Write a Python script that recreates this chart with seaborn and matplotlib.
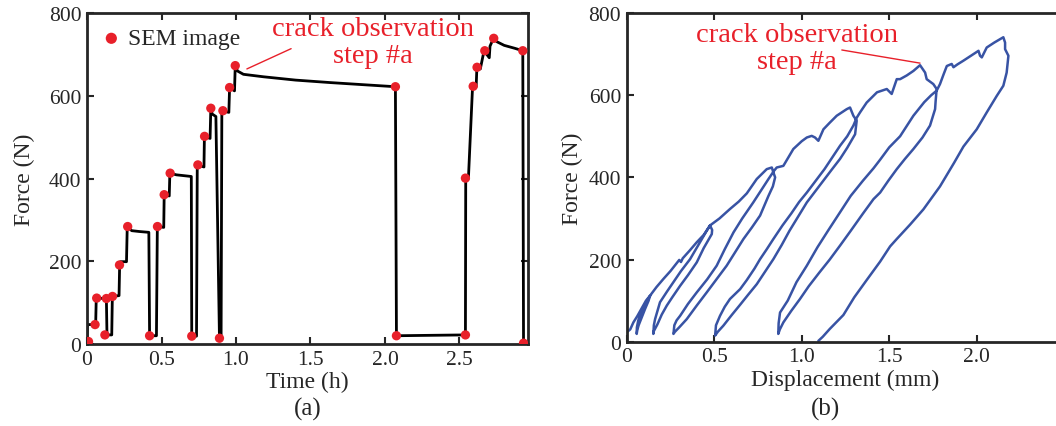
import matplotlib
matplotlib.use("Agg")
import matplotlib.pyplot as plt
import pandas as pd
import seaborn as sns

# ---- (a) force vs time ----
time_h = [0.0, 0.004, 0.058, 0.062, 0.13, 0.134, 0.166, 0.17, 0.215, 0.219,
          0.224, 0.265, 0.27, 0.30, 0.35, 0.415, 0.42, 0.466, 0.472, 0.515,
          0.518, 0.552, 0.556, 0.60, 0.65, 0.70, 0.703, 0.735, 0.74, 0.785,
          0.788, 0.826, 0.831, 0.84, 0.865, 0.889, 0.90, 0.905, 0.952, 0.957,
          0.99, 0.995, 1.01, 1.05, 1.185, 1.40, 1.633, 1.85, 2.07, 2.077,
          2.30, 2.54, 2.542, 2.56, 2.588, 2.612, 2.617, 2.64, 2.665, 2.70,
          2.705, 2.728, 2.75, 2.80, 2.87, 2.925, 2.93]
force_t = [5, 47, 47, 111, 110, 22, 22, 115, 117, 191,
           199, 199, 284, 274, 272, 270, 20, 20, 284, 282,
           361, 358, 413, 409, 407, 405, 19, 19, 433, 428,
           502, 497, 570, 556, 550, 14, 14, 564, 560, 620,
           612, 673, 660, 652, 646, 638, 632, 627, 622, 20,
           21, 22, 401, 400, 623, 622, 669, 665, 709, 692,
           720, 739, 731, 722, 715, 709, 2]

sem_time = [0.01, 0.054, 0.065, 0.13, 0.12, 0.171, 0.218, 0.273, 0.42, 0.473,
            0.518, 0.558, 0.703, 0.744, 0.789, 0.831, 0.889, 0.912, 0.957, 0.995,
            2.07, 2.077, 2.54, 2.54, 2.592, 2.618, 2.67, 2.73, 2.925, 2.93]
sem_force = [6, 47, 111, 110, 22, 115, 191, 284, 20, 284,
             361, 413, 19, 433, 502, 570, 14, 564, 620, 673,
             622, 20, 22, 401, 623, 669, 709, 739, 709, 2]

# ---- (b) force vs displacement, branch by branch ----
load1_d = [0.0, 0.0, 0.02, 0.038, 0.06, 0.09, 0.11, 0.133]
load1_f = [6, 23, 30, 47, 62, 85, 100, 112]
unload1_d = [0.125, 0.105, 0.085, 0.068, 0.06, 0.057]
unload1_f = [100, 80, 58, 40, 28, 19]
reload2_d = [0.058, 0.066, 0.08, 0.1, 0.12, 0.14, 0.17, 0.21, 0.25, 0.30,
             0.31, 0.32, 0.36, 0.40, 0.44, 0.476, 0.488]
reload2_f = [35, 52, 68, 86, 102, 116, 133, 153, 172, 199,
             194, 203, 222, 242, 260, 283, 272]
unload2_d = [0.486, 0.44, 0.40, 0.35, 0.305, 0.26, 0.229, 0.20, 0.175, 0.155, 0.152]
unload2_f = [262, 228, 193, 162, 136, 108, 88, 66, 42, 26, 19]
reload3_d = [0.155, 0.162, 0.19, 0.23, 0.267, 0.31, 0.362, 0.41, 0.457, 0.476,
             0.53, 0.59, 0.64, 0.686, 0.743, 0.80, 0.829, 0.838, 0.848]
reload3_f = [40, 55, 96, 122, 145, 172, 201, 236, 270, 283,
             300, 323, 341, 361, 396, 420, 424, 412, 400]
unload3_d = [0.835, 0.81, 0.762, 0.715, 0.667, 0.62, 0.571, 0.51, 0.457, 0.40,
             0.343, 0.30, 0.275, 0.267]
unload3_f = [378, 355, 307, 278, 250, 218, 185, 150, 120, 88,
             55, 35, 24, 19]
reload4_d = [0.272, 0.285, 0.305, 0.35, 0.40, 0.46, 0.514, 0.56, 0.61, 0.66,
             0.723, 0.77, 0.81, 0.84, 0.857, 0.895, 0.952, 1.0, 1.029, 1.057,
             1.076, 1.095, 1.124, 1.16, 1.2, 1.257, 1.276, 1.295, 1.314]
reload4_f = [40, 52, 63, 92, 120, 152, 185, 225, 266, 300,
             339, 370, 396, 415, 424, 428, 469, 488, 497, 501,
             497, 489, 517, 533, 550, 566, 570, 550, 538]
unload4_d = [1.305, 1.26, 1.219, 1.17, 1.12, 1.07, 1.029, 0.98, 0.93, 0.885,
             0.838, 0.79, 0.743, 0.695, 0.648, 0.60, 0.552, 0.52, 0.505]
unload4_f = [505, 472, 445, 418, 390, 362, 339, 305, 270, 235,
             201, 170, 140, 115, 90, 65, 39, 24, 15]
reload5_d = [0.51, 0.533, 0.56, 0.59, 0.648, 0.686, 0.73, 0.762, 0.80, 0.838,
             0.89, 0.94, 0.985, 1.029, 1.08, 1.13, 1.18, 1.219, 1.26, 1.295,
             1.314, 1.333, 1.371, 1.43, 1.486, 1.514, 1.543, 1.562, 1.60, 1.638,
             1.676, 1.705, 1.714, 1.752, 1.771]
reload5_f = [40, 63, 85, 104, 128, 150, 178, 201, 225, 250,
             283, 312, 340, 363, 392, 420, 452, 477, 500, 526,
             545, 558, 582, 607, 615, 603, 639, 639, 648, 659,
             673, 655, 639, 627, 615]
unload5_d = [1.768, 1.765, 1.762, 1.733, 1.69, 1.638, 1.59, 1.543, 1.495, 1.448,
             1.41, 1.35, 1.28, 1.219, 1.16, 1.10, 1.04, 0.99, 0.94, 0.895,
             0.875, 0.866]
unload5_f = [600, 585, 566, 526, 497, 469, 445, 420, 392, 363,
             347, 312, 270, 234, 200, 168, 135, 104, 75, 47,
             30, 19]
reload6_d = [0.868, 0.876, 0.92, 0.97, 1.029, 1.09, 1.15, 1.219, 1.28, 1.35,
             1.41, 1.448, 1.50, 1.562, 1.60, 1.638, 1.70, 1.74, 1.771, 1.79,
             1.81, 1.829, 1.857, 1.867, 1.89, 1.924, 1.97, 2.01, 2.019, 2.029,
             2.057, 2.10, 2.152, 2.162, 2.162, 2.181]
reload6_f = [45, 71, 100, 145, 185, 230, 270, 315, 355, 392,
             422, 443, 473, 500, 525, 550, 583, 600, 611, 627,
             650, 671, 676, 668, 675, 684, 697, 708, 696, 692,
             716, 728, 741, 728, 712, 696]
unload6_d = [2.171, 2.152, 2.114, 2.057, 2.0, 1.924, 1.87, 1.79, 1.695, 1.619,
             1.543, 1.505, 1.448, 1.371, 1.30, 1.238, 1.16, 1.12, 1.095]
unload6_f = [655, 623, 598, 558, 517, 475, 435, 378, 322, 285,
             250, 232, 195, 150, 108, 65, 31, 12, 2]

disp_mm = (load1_d + unload1_d + reload2_d + unload2_d + reload3_d + unload3_d
           + reload4_d + unload4_d + reload5_d + unload5_d + reload6_d + unload6_d)
force_d = (load1_f + unload1_f + reload2_f + unload2_f + reload3_f + unload3_f
           + reload4_f + unload4_f + reload5_f + unload5_f + reload6_f + unload6_f)

df_t = pd.DataFrame({"t": time_h, "F": force_t})
df_sem = pd.DataFrame({"t": sem_time, "F": sem_force})
df_d = pd.DataFrame({"d": disp_mm, "F": force_d})

sns.set_style("ticks")
plt.rcParams["font.family"] = ["Liberation Serif", "DejaVu Serif"]

red = "#e8202a"
blue = "#3853a4"

fig = plt.figure(figsize=(10.56, 4.27), dpi=100)
ax1 = fig.add_axes([0.0824, 0.192, 0.4176, 0.775])
ax2 = fig.add_axes([0.5935, 0.1974, 0.4143, 0.7698])

sns.lineplot(data=df_t, x="t", y="F", sort=False, estimator=None,
             color="black", lw=2, ax=ax1)
sns.scatterplot(data=df_sem, x="t", y="F", color=red, s=45, edgecolor="none",
                label="SEM image", zorder=3, ax=ax1)
ax1.set_xlim(0, 2.96)
ax1.set_ylim(0, 800)
ax1.set_xticks([0, 0.5, 1.0, 1.5, 2.0, 2.5])
ax1.set_xticklabels(["0", "0.5", "1.0", "1.5", "2.0", "2.5"])
ax1.set_yticks([0, 200, 400, 600, 800])
ax1.set_xlabel("Time (h)", fontsize=17, labelpad=2)
ax1.set_ylabel("Force (N)", fontsize=17, labelpad=10)
ax1.legend(loc="upper left", bbox_to_anchor=(0.0, 1.0), frameon=False,
           fontsize=17, handlelength=0.8, handletextpad=0.3, borderpad=0.35,
           borderaxespad=0.28, markerscale=1.2)
ax1.text(1.92, 730, "crack observation\nstep #a", color=red, fontsize=20.5,
         ha="center", va="center", linespacing=1.12)
ax1.plot([1.073, 1.37], [665, 714], color=red, lw=1)

sns.lineplot(data=df_d, x="d", y="F", sort=False, estimator=None,
             color=blue, lw=1.8, ax=ax2)
ax2.set_xlim(0, 2.5)
ax2.set_ylim(0, 800)
ax2.set_xticks([0, 0.5, 1.0, 1.5, 2.0])
ax2.set_xticklabels(["0", "0.5", "1.0", "1.5", "2.0"])
ax2.set_yticks([0, 200, 400, 600, 800])
ax2.set_xlabel("Displacement (mm)", fontsize=17, labelpad=2)
ax2.set_ylabel("Force (N)", fontsize=17, labelpad=4)
ax2.text(0.975, 714, "crack observation\nstep #a", color=red, fontsize=20.5,
         ha="center", va="center", linespacing=1.12)
ax2.plot([1.229, 1.676], [710, 678], color=red, lw=1)

for ax in (ax1, ax2):
    ax.tick_params(direction="in", top=True, right=True, length=5, width=1.5,
                   labelsize=15.5, pad=4)
    for sp in ax.spines.values():
        sp.set_linewidth(2)
        sp.set_visible(True)

fig.text(0.291, 0.04, "(a)", fontsize=18, ha="center", va="center")
fig.text(0.782, 0.04, "(b)", fontsize=18, ha="center", va="center")

fig.savefig("out.png", dpi=100)
